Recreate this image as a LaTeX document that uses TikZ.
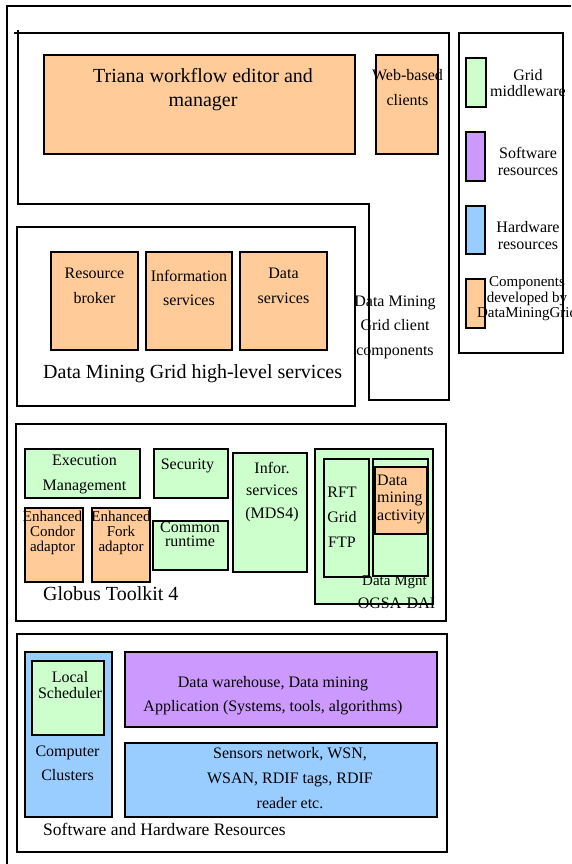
\documentclass[tikz,border=0pt]{standalone}
\usepackage{fontspec}
\setmainfont{Liberation Serif}
\definecolor{orng}{HTML}{FFCC99}
\definecolor{grn}{HTML}{CCFFCC}
\definecolor{prp}{HTML}{CC99FF}
\definecolor{blu}{HTML}{99CCFF}
\newcommand\fsz[2]{\fontsize{#1}{#2}\selectfont}
\begin{document}
\begin{tikzpicture}[x=1pt,y=-1pt,
  frame/.style={draw=black,line width=1.3pt},
  txt/.style={inner sep=0pt,align=center,font=\fsz{16}{25}},
  big/.style={inner sep=0pt,anchor=west,font=\fsz{20}{24}}]
\useasboundingbox (0,0) rectangle (571,864);
% outer frame
\draw[frame] (7,864) -- (7,6) -- (571,6);
% client components region
\draw[frame] (18,33) -- (449,33) -- (449,400) -- (369,400) -- (369,204) -- (18,204) -- cycle;
\draw[frame] (14,33) -- (18,33) (18,30) -- (18,33);
\draw[frame,fill=orng] (44,55) rectangle (355,154);
\node[txt,font=\fsz{20}{24}] (triana) at (203,90) {Triana workflow editor and\\manager};
\draw[frame,fill=orng] (376,55) rectangle (438,154);
\node[txt] (web) at (407.5,88) {Web-based\\clients};
\node[txt,font=\fsz{16}{24.5}] (dmgc) at (395,327) {Data Mining\\Grid client\\components};
% legend
\draw[frame] (459,33) rectangle (563,353);
\draw[frame,fill=grn] (466,58) rectangle (486,107);
\node[txt,font=\fsz{16}{16}] (lg1) at (528,83.5) {Grid\\middleware};
\draw[frame,fill=prp] (466,132) rectangle (485,181);
\node[txt,font=\fsz{16}{17}] (lg2) at (528,161) {Software\\resources};
\draw[frame,fill=blu] (466,206) rectangle (485,254);
\node[txt,font=\fsz{16}{17}] (lg3) at (528,236) {Hardware\\resources};
\draw[frame,fill=orng] (466,279) rectangle (485,328);
\node[txt,font=\fsz{15}{15.5}] (lg4) at (527,299) {Components\\developed by\\DataMiningGrid};
% high-level services
\draw[frame] (17,227) rectangle (355,406);
\draw[frame,fill=orng] (51,252) rectangle (138,350);
\draw[frame,fill=orng] (146,252) rectangle (232,350);
\draw[frame,fill=orng] (240,252) rectangle (327,350);
\node[txt] (rb) at (94.5,286) {Resource\\broker};
\node[txt,font=\fsz{16}{24}] (is) at (189,287.5) {Information\\services};
\node[txt] (ds) at (283.5,286) {Data\\services};
\node[big] (hls) at (43,374) {Data Mining Grid high-level services};
% Globus
\draw[frame] (16,424) rectangle (446,621);
\draw[frame,fill=grn] (25,449) rectangle (140,498);
\node[txt] (exec) at (84.5,474.5) {Execution\\Management};
\draw[frame,fill=grn] (154,449) rectangle (228,498);
\node[txt] (sec) at (187.5,466) {Security};
\draw[frame,fill=grn] (233,453) rectangle (307,572);
\node[txt,font=\fsz{16}{22.5}] (infor) at (272,492) {Infor.\\services\\(MDS4)};
\draw[frame,fill=orng] (25,508) rectangle (83,582);
\node[txt,font=\fsz{15}{15}] (condor) at (52.5,532.5) {Enhanced\\Condor\\adaptor};
\draw[frame,fill=orng] (92,508) rectangle (150,582);
\node[txt,font=\fsz{15}{15}] (fork) at (121,532.5) {Enhanced\\Fork\\adaptor};
\draw[frame,fill=grn] (153,521) rectangle (228,570);
\node[txt,font=\fsz{16}{14}] (common) at (190,534) {Common\\runtime};
\draw[frame,fill=grn] (315,449) rectangle (433,604);
\draw[frame,fill=grn] (324,459) rectangle (369,577);
\node[txt] (rft) at (342,517.5) {RFT\\Grid\\FTP};
\draw[frame,fill=grn] (373,459) rectangle (428,576);
\draw[frame,fill=orng] (375,467) rectangle (427,534);
\node[txt,align=left,anchor=west,font=\fsz{16}{17.5}] (dma) at (377,499) {Data\\mining\\activity};
\node[txt,font=\fsz{15}{15}] (dmgnt) at (394.5,582) {Data Mgnt};
\node[txt] (ogsa) at (396.5,603) {OGSA-DAI};
\node[big] (gt4) at (43,594) {Globus Toolkit 4};
% Software and hardware
\draw[frame] (17,634) rectangle (447,852);
\draw[frame,fill=blu] (25,652) rectangle (112,817);
\draw[frame,fill=grn] (32,661) rectangle (104,735);
\node[txt,font=\fsz{16}{16}] (ls) at (70,685.5) {Local\\Scheduler};
\node[txt,font=\fsz{16}{24}] (cc) at (67.5,763.5) {Computer\\Clusters};
\draw[frame,fill=prp] (125,652) rectangle (437,727);
\node[txt,font=\fsz{16}{24}] (dw) at (273,695.5) {Data warehouse, Data mining\\Application (Systems, tools, algorithms)};
\draw[frame,fill=blu] (125,743) rectangle (437,817);
\node[txt] (sn) at (290,778.5) {Sensors network, WSN,\\WSAN, RDIF tags, RDIF\\reader etc.};
\node[big,font=\fsz{17.5}{20}] (shr) at (43,829) {Software and Hardware Resources};
\end{tikzpicture}
\end{document}
